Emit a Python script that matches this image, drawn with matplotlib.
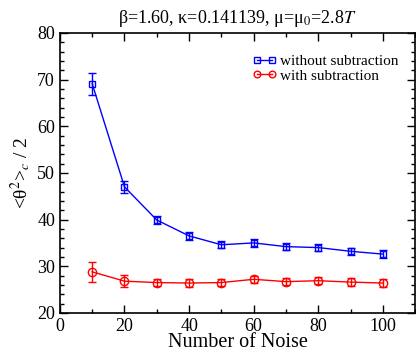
import numpy as np
import matplotlib
matplotlib.use('Agg')
import matplotlib.pyplot as plt
from matplotlib.ticker import MultipleLocator

# data
n_noise = [10, 20, 30, 40, 50, 60, 70, 80, 90, 100]
without_sub = [69.1, 47.0, 39.9, 36.5, 34.6, 35.0, 34.2, 34.0, 33.2, 32.6]
without_err = [2.3, 1.2, 0.8, 0.8, 0.8, 0.8, 0.8, 0.8, 0.8, 0.8]
with_sub = [28.8, 26.8, 26.5, 26.4, 26.5, 27.2, 26.7, 26.9, 26.6, 26.4]
with_err = [2.1, 1.3, 0.8, 0.8, 0.8, 0.8, 0.8, 0.8, 0.8, 0.8]

plt.rcParams['font.family'] = ['Liberation Serif', 'DejaVu Serif']
plt.rcParams['mathtext.fontset'] = 'stix'

fig = plt.figure(figsize=(4.16, 3.5), dpi=100)
ax = fig.add_axes([0.144, 0.106, 0.854, 0.8])

e1 = ax.errorbar(n_noise, without_sub, yerr=without_err, color='blue', marker='s',
                 ms=5, mfc='none', mew=1, lw=1, capsize=3, elinewidth=1)
e2 = ax.errorbar(n_noise, with_sub, yerr=with_err, color='red', marker='o',
                 ms=6, mfc='none', mew=1, lw=1, capsize=3, elinewidth=1)

ax.set_xlim(0, 110)
ax.set_ylim(20, 80)
ax.xaxis.set_major_locator(MultipleLocator(20))
ax.xaxis.set_minor_locator(MultipleLocator(10))
ax.yaxis.set_major_locator(MultipleLocator(10))
ax.yaxis.set_minor_locator(MultipleLocator(2))
ax.tick_params(which='both', direction='in', top=True, right=True,
               labelsize=13, width=1)
ax.tick_params(which='major', length=6)
ax.tick_params(which='minor', length=3)
for s in ax.spines.values():
    s.set_linewidth(1.2)

ax.set_xlabel('Number of Noise', fontsize=14.5, labelpad=-1)
ax.set_ylabel('<θ$^2$>$_c$ / 2', fontsize=14, labelpad=3)
ax.set_title('β=1.60, κ=0.141139, μ=μ$_0$=2.8$T$', fontsize=13, pad=7)

# legend handles without the error bars, markers at both ends
ax.legend([e1[0], e2[0]], ['without subtraction', 'with subtraction'],
          loc='upper right', bbox_to_anchor=(0.97, 0.945), frameon=False,
          fontsize=11, handlelength=1.6, handletextpad=0.2, numpoints=2,
          labelspacing=0.05, borderaxespad=0, markerscale=0.8)

fig.savefig('out.png', dpi=100)
